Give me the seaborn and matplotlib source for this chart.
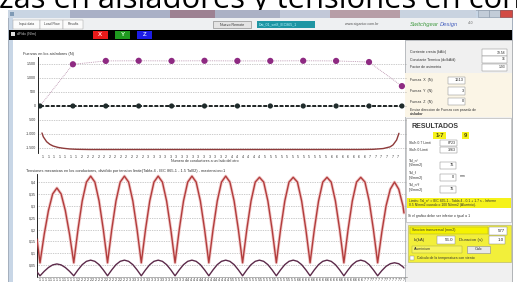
import numpy as np
import matplotlib
matplotlib.use("Agg")
import matplotlib.pyplot as plt
from matplotlib.patches import Rectangle
import seaborn as sns

# ===============================
# Data
# ===============================
# top chart: forces on the insulators (N), one value per insulator
insulator_idx = [0, 1, 2, 3, 4, 5, 6, 7, 8, 9, 10, 11]
force_xy = [0, 1490, 1610, 1615, 1610, 1615, 1610, 1610, 1615, 1610, 1570, 710]
force_z = [0, 0, 0, 0, 0, 0, 0, 0, 0, 0, 0, 0]

# red-brown curve along the bottom of the top chart
edge_pos = [0.06, 0.1, 0.2, 0.3, 0.4, 0.55, 0.71, 0.9, 1.12, 1.5,
            9.7, 10.12, 10.43, 10.64, 10.73, 10.84, 10.91]
edge_force = [-964, -1100, -1275, -1370, -1430, -1480, -1510, -1535, -1547, -1555,
              -1555, -1548, -1520, -1460, -1390, -1214, -975]

# bottom chart: conductor stress / limit, sampled every 1/8 span
span_pos = [-0.09] + list(np.arange(0, 10.76, 0.125)) + [10.78]
stress_main = (
    [0.16]
    + [0.06, 0.18, 0.28, 0.35, 0.375, 0.35, 0.28, 0.18]
    + [0.06, 0.20, 0.32, 0.40, 0.425, 0.40, 0.32, 0.20]
    + [0.06, 0.20, 0.32, 0.40, 0.425, 0.40, 0.32, 0.20]
    + [0.06, 0.20, 0.32, 0.40, 0.425, 0.40, 0.32, 0.20]
    + [0.06, 0.20, 0.32, 0.40, 0.425, 0.40, 0.32, 0.20]
    + [0.06, 0.20, 0.32, 0.40, 0.425, 0.40, 0.32, 0.20]
    + [0.06, 0.20, 0.32, 0.40, 0.42, 0.40, 0.32, 0.20]
    + [0.06, 0.20, 0.32, 0.40, 0.42, 0.40, 0.32, 0.20]
    + [0.06, 0.20, 0.32, 0.40, 0.42, 0.40, 0.32, 0.20]
    + [0.06, 0.20, 0.32, 0.40, 0.42, 0.40, 0.32, 0.20]
    + [0.06, 0.19, 0.30, 0.37, 0.40, 0.37, 0.30]
    + [0.27]
)
stress_low = (
    [0.022]
    + [0.005, 0.024, 0.040, 0.051, 0.055, 0.051, 0.040, 0.024]
    + [0.005, 0.030, 0.052, 0.066, 0.071, 0.066, 0.052, 0.030]
    + [0.005, 0.030, 0.052, 0.066, 0.071, 0.066, 0.052, 0.030]
    + [0.005, 0.030, 0.052, 0.066, 0.071, 0.066, 0.052, 0.030]
    + [0.005, 0.030, 0.052, 0.066, 0.071, 0.066, 0.052, 0.030]
    + [0.005, 0.030, 0.052, 0.066, 0.071, 0.066, 0.052, 0.030]
    + [0.005, 0.030, 0.052, 0.066, 0.071, 0.066, 0.052, 0.030]
    + [0.005, 0.030, 0.052, 0.066, 0.071, 0.066, 0.052, 0.030]
    + [0.005, 0.030, 0.052, 0.066, 0.071, 0.066, 0.052, 0.030]
    + [0.005, 0.030, 0.052, 0.066, 0.071, 0.066, 0.052, 0.030]
    + [0.005, 0.027, 0.045, 0.056, 0.060, 0.056, 0.043]
    + [0.038]
)

top_yticks = [-1500, -1000, -500, 0, 500, 1000, 1500]
top_ytick_labels = ["-1.500", "-1.000", "-500", "0", "500", "1.000", "1.500"]
bot_yticks = [0.05, 0.1, 0.15, 0.2, 0.25, 0.3, 0.35, 0.4]
bot_ytick_labels = ["0,05", "0,1", "0,15", "0,2", "0,25", "0,3", "0,35", "0,4"]
top_xtick_labels = ("1 1 1 1 1 1 1 2 2 2 2 2 2 2 2 2 2 2 2 3 3 3 3 3 3 3 3 3 3 3 3 3 3 "
                    "2 4 4 4 4 4 4 5 5 5 5 5 5 5 5 5 5 5 5 6 6 6 6 6 6 6 7 7 7 7 7 7").split()
bot_xtick_labels = list("11111111111111222222222222222222333333333333333333334444444444444444"
                        "555555555555555555555555666666666666666666666666777777777777777")

# ===============================
# Figure helpers (pixel layout)
# ===============================
W, H = 517, 282
sns.set_theme(style="white")
plt.rcParams["font.family"] = ["Liberation Sans", "DejaVu Sans"]

fig = plt.figure(figsize=(W / 100, H / 100), dpi=100)
fig.patch.set_facecolor("white")


def box(x0, y0, x1, y1):
    return [x0 / W, 1 - y1 / H, (x1 - x0) / W, (y1 - y0) / H]


def rect(x0, y0, x1, y1, fc, ec="none", lw=0.4, z=-5):
    fig.add_artist(Rectangle((x0 / W, 1 - y1 / H), (x1 - x0) / W, (y1 - y0) / H,
                             transform=fig.transFigure, fc=fc, ec=ec, lw=lw, zorder=z))


def txt(x, y, s, size=2.7, color="#333333", ha="left", va="center", z=5, **kw):
    fig.text(x / W, 1 - y / H, s, fontsize=size, color=color, ha=ha, va=va, zorder=z, **kw)


def field(x0, y0, x1, y1, value, size=2.7):
    rect(x0, y0, x1, y1, "white", ec="#8a8a8a", lw=0.35, z=-3)
    txt(x1 - 1.5, (y0 + y1) / 2, value, size=size, ha="right", color="#222222")


# slide title running across the top, partly hidden behind the screenshot
fig.text(-0.002, 1 - 7.8 / H, "zas en aisladores y tensiones en conduc", fontsize=22.3,
         family=["Open Sans", "DejaVu Sans"], color="black", ha="left",
         va="baseline", zorder=-20)

# ===============================
# Window chrome
# ===============================
rect(8, 10, 512, 282, "#c8d6e6", ec="#8a97a8", lw=0.5, z=-10)
for x0, x1, c in [(8, 70, "#c9d5e3"), (70, 170, "#a9b0c6"), (170, 215, "#9d8192"),
                  (215, 280, "#abb1c5"), (280, 330, "#c2c8d8"), (330, 400, "#b79ea7"),
                  (400, 476, "#c9d3e0")]:
    rect(x0, 10, x1, 18, c, z=-9)
rect(478, 10, 489, 17, "#c2ccd8", ec="#8a97a8", z=-8)
rect(489, 10, 500, 17, "#c2ccd8", ec="#8a97a8", z=-8)
rect(500, 10, 512, 17, "#d24a44", ec="#8a3a3a", z=-8)
rect(10, 11.5, 14, 16, "#7f9ab5", z=-8)

# toolbar
rect(13, 18, 512, 30, "#eef0f2", z=-9)
for x0, x1, s in [(13, 40, "Input data"), (40, 63, "Load Flow"), (63, 83, "Results")]:
    rect(x0, 20, x1, 28.5, "#fbfbfb", ec="#9a9a9a", lw=0.3, z=-8)
    txt((x0 + x1) / 2, 24.3, s, size=2.4, ha="center", color="#404040")
rect(213, 21, 251, 28, "#e4e4e4", ec="#7a7a7a", lw=0.4, z=-8)
txt(232, 24.5, "Nuevo Remote", size=2.6, ha="center", color="#333333")
rect(257, 21, 315, 28, "#1f95a3", z=-8)
txt(259, 24.5, "Dat_01_set8_IEC865_1", size=2.6, color="#bff4ff")
txt(345, 24.5, "www.sigantor.com.br", size=2.6, color="#555555")
txt(410, 24.5, "Switchgear", size=4.2, color="#3f9a3f", style="italic")
txt(440, 24.5, "Design", size=4.2, color="#4a64c0", style="italic")
txt(468, 23, "v10", size=2.4, color="#666666")

# black bar with axis buttons
rect(9, 30, 512, 40, "black", z=-8)
rect(11, 32, 15, 36, "#dddddd", z=-7)
txt(17, 34, "dF/dx (N/m)", size=2.6, color="#c8c8c8")
for x0, c, s, tc in [(93, "#e81a1a", "X", "#ffd0d0"), (115, "#1f9a1f", "Y", "#d0ffd0"),
                     (137, "#1c1ce6", "Z", "#d0d8ff")]:
    rect(x0, 31, x0 + 15, 39, c, z=-7)
    txt(x0 + 7.5, 35, s, size=4.4, color=tc, ha="center", weight="bold")

# content panels
rect(13, 40, 405, 282, "white", z=-9)
rect(405, 40, 512, 282, "#f0f0f0", ec="#a0a0a0", lw=0.4, z=-9)

# ===============================
# Top chart: forces on insulators
# ===============================
ax1 = fig.add_axes(box(38, 57, 407, 153))
ax1.set_facecolor("none")
ax1.set_xlim(-0.061, 11.155)
ax1.set_ylim(-1679, 1750)
ax1.set_yticks(top_yticks)
ax1.set_yticklabels(top_ytick_labels)
ax1.yaxis.grid(True, ls=(0, (1, 1.5)), color="#9a9a9a", lw=0.5)
ax1.set_xticks(np.linspace(0.09, 10.88, len(top_xtick_labels)))
ax1.set_xticklabels(top_xtick_labels)
ax1.tick_params(axis="both", length=0, labelsize=2.6, pad=1.6, labelcolor="#333333")

sns.lineplot(x=edge_pos, y=edge_force, ax=ax1, color="#8e3a3a", lw=1.0, zorder=3)
sns.lineplot(x=insulator_idx, y=force_z, ax=ax1, color="#1e2424", lw=1.4,
             ls=(0, (2, 0.8)), zorder=3)
sns.lineplot(x=insulator_idx, y=force_xy, ax=ax1, color="#b58aa8", lw=0.6,
             ls=(0, (1, 1.2)), zorder=3)
sns.scatterplot(x=insulator_idx, y=force_z, ax=ax1, color="#1f2b2b", s=14,
                edgecolor="none", zorder=4)
sns.scatterplot(x=insulator_idx[1:], y=force_xy[1:], ax=ax1, color="#8e2a82", s=20,
                edgecolor="none", zorder=4)
ax1.set_xlabel("")
ax1.set_ylabel("")
for side in ["top", "right", "bottom"]:
    ax1.spines[side].set_visible(False)
ax1.spines["left"].set_color("black")
ax1.spines["left"].set_linewidth(0.6)

txt(23, 53.5, "Fuerzas en los aisladores (N)", size=2.8, color="#333333")
txt(205, 161.5, "Numero de conductores a un lado del otro", size=2.6,
    ha="center", color="#333333")

# ===============================
# Bottom chart: conductor stresses
# ===============================
ax2 = fig.add_axes(box(37, 174, 407, 277))
ax2.set_facecolor("none")
ax2.set_xlim(-0.089, 10.87)
ax2.set_ylim(0, 0.434)
ax2.set_yticks(bot_yticks)
ax2.set_yticklabels(bot_ytick_labels)
ax2.yaxis.grid(True, ls=(0, (1, 1.5)), color="#9a9a9a", lw=0.5)
ax2.set_xticks(np.linspace(0.0, 10.78, len(bot_xtick_labels)))
ax2.set_xticklabels(bot_xtick_labels)
ax2.tick_params(axis="both", length=0, labelsize=2.6, pad=1.0, labelcolor="#333333")

sns.lineplot(x=span_pos, y=stress_main, ax=ax2, color="#f0c8c8", lw=2.2, zorder=2)
sns.lineplot(x=span_pos, y=stress_main, ax=ax2, color="#b23c3c", lw=1.0, zorder=3)
sns.lineplot(x=span_pos, y=stress_low, ax=ax2, color="#5c2a4a", lw=1.0, zorder=3)
ax2.set_xlabel("")
ax2.set_ylabel("")
for side in ["top", "right"]:
    ax2.spines[side].set_visible(False)
ax2.spines["left"].set_color("black")
ax2.spines["left"].set_linewidth(0.6)
ax2.spines["bottom"].set_color("#777777")
ax2.spines["bottom"].set_linewidth(0.4)

txt(26, 171, "Tensiones mecanicas en los conductores, dividido por tension limite"
    "(Tabla 4 - IEC 865-1 - 1.5 Tal02) - maxtension=1", size=2.8, color="#333333")

# ===============================
# Right side panel
# ===============================
txt(410, 52.5, "Corriente cresta (kA/c)", size=2.6)
field(482, 49.5, 507, 55.5, "39.58", size=2.4)
txt(410, 59.5, "Constante Termica (dc/kA/d)", size=2.6)
field(482, 56.5, 507, 62.5, "16", size=2.4)
txt(410, 67.5, "Factor de asimetria", size=2.6)
field(482, 64.5, 507, 70.5, "1.93", size=2.4)

rect(405, 73, 512, 117, "#fbf5e6", z=-6)
for yy, lab, val in [(80.5, "Fuerza  X  (N)", "1613"), (91, "Fuerza  Y  (N)", "3"),
                     (101.5, "Fuerza  Z  (N)", "0")]:
    txt(410, yy, lab, size=2.6)
    field(448, yy - 3.8, 465, yy + 3.8, val, size=2.8)
txt(410, 109.5, "Enviar direccion de Fuerza con pasado de", size=2.5)
txt(410, 113.5, "aislador", size=2.5, weight="bold")

rect(406, 118, 511, 222, "white", ec="#a8a8a8", lw=0.4, z=-6)
txt(412, 127, "RESULTADOS", size=5.0, color="#3a3a3a", weight="bold")
rect(433, 131.5, 446, 138.5, "#f6f21a", z=-4)
txt(439.5, 135, "1-7", size=4.2, ha="center", color="#4a4a10", weight="bold")
rect(462, 131.5, 468.5, 138.5, "#f6f21a", z=-4)
txt(465.2, 135, "9", size=4.2, ha="center", color="#4a4a10", weight="bold")
txt(409, 143, "Sb/h 0.7 Limit", size=2.5)
field(440, 140, 457, 146, "8723", size=2.6)
txt(409, 150, "Sb/h 0 Limit", size=2.5)
field(440, 147, 457, 153, "3263", size=2.6)
for y0, lab, val in [(160, "Tal_n\u00b0", "76"), (172.5, "Tal_f", "0"), (184.5, "Tal_n\u00b0f", "76")]:
    txt(409, y0, lab, size=2.6)
    txt(409, y0 + 5, "(N/mm2)", size=2.6)
    field(440, y0 + 1.5, 456, y0 + 8.5, val, size=2.8)
txt(460, 176, "mm", size=2.5)
rect(407, 198, 511, 207.5, "#f5f21a", z=-4)
txt(409, 200.5, "Limits: Tal_n\u00b0 = IEC 865-1 - Tabla 4 - 0.1 + 1.7 s - Informe", size=2.4)
txt(409, 204.8, "0.5 N/mm2 cuando o 100 N/mm2 (Aluminio).", size=2.4)
txt(408, 216, "Si el grafico debe ser inferior o igual a 1", size=2.5)

rect(408, 225, 511, 262, "#f2ef3a", ec="#b0b060", lw=0.4, z=-6)
rect(410, 227, 488, 234, "#f5f200", ec="#a0a040", lw=0.3, z=-5)
txt(412, 230.5, "Seccion transversal (mm2)", size=2.6)
field(489, 227, 507, 234.5, "577", size=3.2)
txt(414, 240, "Ik(kA)", size=3.2)
field(437, 236, 455, 244, "56.0", size=3.2)
txt(459, 240, "Duracion (s)", size=3.2)
field(489, 236, 505, 244, "1.0", size=3.2)
rect(412, 245.5, 462, 253, "#f7f460", ec="#a0a040", lw=0.3, z=-5)
txt(414, 249.3, "Aluminium", size=2.6)
rect(467, 245.5, 490, 253, "#e8e8e8", ec="#8a8a8a", lw=0.4, z=-5)
txt(478.5, 249.3, "Calc", size=2.8, ha="center")
rect(410, 255.5, 414, 259.5, "white", ec="#888888", lw=0.3, z=-5)
txt(417, 257.5, "Calculo de la temperatura con viento", size=2.5)

fig.savefig("out.png", dpi=100)
